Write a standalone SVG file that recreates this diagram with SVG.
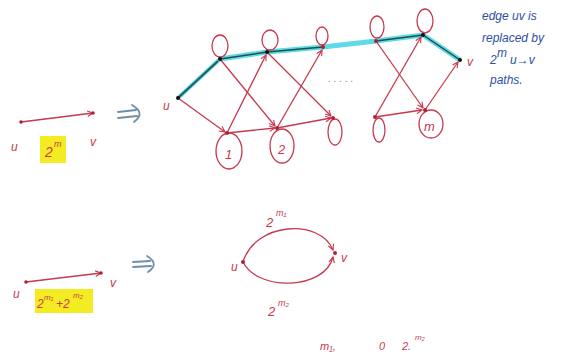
<svg xmlns="http://www.w3.org/2000/svg" width="567" height="355" viewBox="0 0 567 355">
<style>
.r{stroke:#c8384e;stroke-width:1.3;fill:none;stroke-linecap:round}
.ra{stroke:#c8384e;stroke-width:1.3;fill:none;marker-end:url(#ah)}
.lbl{font-family:"Liberation Sans",sans-serif;font-style:italic;fill:#c8384e}
.blue{font-family:"Liberation Sans",sans-serif;font-style:italic;fill:#2c4fa3;font-size:12px}
.dot{fill:#b02034}
.kd{fill:#111}
.imp{stroke:#6f8fa8;stroke-width:1.8;fill:none;stroke-linecap:round}
</style>
<defs>
<marker id="ah" viewBox="0 0 10 10" refX="9" refY="5" markerWidth="7" markerHeight="7" orient="auto" markerUnits="userSpaceOnUse">
<path d="M1 1 L9 5 L1 9" fill="none" stroke="#c8384e" stroke-width="1.6"/>
</marker>
</defs>
<rect width="567" height="355" fill="#fff"/>

<!-- left top: u -> v with 2^m -->
<g id="edge-top">
<rect x="40" y="136" width="26" height="27" fill="#f3ec23"/>
<line x1="21" y1="122" x2="93" y2="113" class="ra"/>
<circle cx="21" cy="122" r="1.8" class="dot"/>
<circle cx="93" cy="113" r="1.8" class="dot"/>
<text x="11" y="151" class="lbl" font-size="12">u</text>
<text x="45" y="157" class="lbl" font-size="14">2</text>
<text x="54" y="147" class="lbl" font-size="9">m</text>
<text x="90" y="146" class="lbl" font-size="12">v</text>
<path d="M118 112 L136 110 M118 118 L137 116 M132 105 Q146 113 134 122" class="imp"/>
</g>

<!-- connectors of the expanded graph -->
<g id="connectors">
<polyline points="220,59 267,52 323,47 376,41 423,35 460,60" fill="none" stroke="#3fd3e3" stroke-width="5" stroke-linejoin="round" opacity="0.85"/>
<line x1="178" y1="98" x2="220" y2="59" stroke="#3fd3e3" stroke-width="4" opacity="0.8"/>
<line x1="178" y1="98" x2="218" y2="61" stroke="#1f5f5c" stroke-width="2"/>
<polyline points="220,59 267,52 323,47" fill="none" stroke="#1f4f4c" stroke-width="1.5"/>
<polyline points="376,41 423,35 460,60" fill="none" stroke="#1f4f4c" stroke-width="1.5"/>
<line x1="178" y1="98" x2="225" y2="132" class="ra"/>
<line x1="220" y1="59" x2="275" y2="126" class="ra"/>
<line x1="227" y1="133" x2="266" y2="55" class="ra"/>
<line x1="227" y1="133" x2="275" y2="128" class="ra"/>
<line x1="267" y1="52" x2="331" y2="116" class="ra"/>
<line x1="277" y1="128" x2="322" y2="50" class="ra"/>
<line x1="277" y1="128" x2="331" y2="118" class="ra"/>
<line x1="376" y1="41" x2="423" y2="108" class="ra"/>
<line x1="375" y1="117" x2="421" y2="37" class="ra"/>
<line x1="375" y1="117" x2="422" y2="110" class="ra"/>
<line x1="425" y1="110" x2="458" y2="62" class="ra"/>
<!-- loops -->
<ellipse cx="220" cy="46" rx="8" ry="11" class="r"/>
<ellipse cx="270" cy="40" rx="8" ry="10" class="r"/>
<ellipse cx="322" cy="36" rx="6" ry="9" class="r"/>
<ellipse cx="377" cy="27" rx="7" ry="11" class="r"/>
<ellipse cx="425" cy="21" rx="8" ry="12" class="r"/>
<ellipse cx="229" cy="151" rx="13" ry="18" class="r"/>
<ellipse cx="282" cy="146" rx="12" ry="17" class="r"/>
<ellipse cx="335" cy="132" rx="7" ry="13" class="r"/>
<ellipse cx="379" cy="130" rx="6" ry="12" class="r"/>
<ellipse cx="431" cy="124" rx="12" ry="14" class="r"/>
<text x="328" y="82" font-family="Liberation Sans,sans-serif" font-size="10" fill="#888">. . . . .</text>
</g>

<g id="node-u"><circle cx="178" cy="98" r="2" class="kd"/><text x="163" y="110" class="lbl" font-size="12">u</text></g>
<g id="node-t1"><circle cx="220" cy="59" r="2" class="kd"/></g>
<g id="node-t2"><circle cx="267" cy="52" r="2" class="kd"/></g>
<g id="node-t3"><circle cx="323" cy="47" r="2" class="dot"/></g>
<g id="node-t4"><circle cx="376" cy="41" r="2" class="dot"/></g>
<g id="node-t5"><circle cx="423" cy="35" r="2" class="kd"/></g>
<g id="node-v"><circle cx="460" cy="60" r="2" class="kd"/><text x="467" y="66" class="lbl" font-size="12">v</text></g>
<g id="node-b1"><circle cx="227" cy="133" r="2" class="dot"/><text x="225" y="159" class="lbl" font-size="13">1</text></g>
<g id="node-b2"><circle cx="277" cy="128" r="2" class="dot"/><text x="278" y="154" class="lbl" font-size="13">2</text></g>
<g id="node-b3"><circle cx="333" cy="118" r="2" class="dot"/></g>
<g id="node-b4"><circle cx="375" cy="117" r="2" class="dot"/></g>
<g id="node-bm"><circle cx="425" cy="110" r="2" class="dot"/><text x="424" y="131" class="lbl" font-size="13">m</text></g>

<g id="note">
<text x="482" y="20" class="blue">edge uv is</text>
<text x="482" y="42" class="blue">replaced by</text>
<text x="490" y="64" class="blue">2</text>
<text x="497" y="57" class="blue" font-size="8">m</text>
<text x="510" y="64" class="blue" font-size="10">u→v</text>
<text x="490" y="84" class="blue">paths.</text>
</g>

<!-- bottom left -->
<g id="edge-bottom">
<rect x="35" y="289" width="58" height="24" fill="#f3ec23"/>
<line x1="26" y1="282" x2="101" y2="273" class="ra"/>
<circle cx="26" cy="282" r="1.8" class="dot"/>
<circle cx="101" cy="273" r="1.8" class="dot"/>
<text x="13" y="298" class="lbl" font-size="12">u</text>
<text x="110" y="287" class="lbl" font-size="12">v</text>
<text x="37" y="308" class="lbl" font-size="12">2</text>
<text x="44" y="300" class="lbl" font-size="8">m₁</text>
<text x="56" y="308" class="lbl" font-size="12">+2</text>
<text x="73" y="298" class="lbl" font-size="8">m₂</text>
<path d="M133 262 L150 261 M133 267 L151 266 M147 256 Q160 264 148 272" class="imp"/>
</g>

<g id="connectors-2">
<path d="M243 262 C 255 222, 320 218, 333 250" class="ra"/>
<path d="M243 262 C 258 292, 325 290, 333 257" class="ra"/>
<text x="266" y="227" class="lbl" font-size="13">2</text>
<text x="276" y="216" class="lbl" font-size="9">m₁</text>
<text x="268" y="316" class="lbl" font-size="13">2</text>
<text x="278" y="306" class="lbl" font-size="9">m₂</text>
</g>
<g id="node-u2"><circle cx="243" cy="262" r="2" class="dot"/><text x="231" y="271" class="lbl" font-size="12">u</text></g>
<g id="node-v2"><circle cx="335" cy="253" r="2" class="dot"/><text x="341" y="262" class="lbl" font-size="12">v</text></g>

<g id="footer">
<text x="320" y="350" class="lbl" font-size="11">m₁,</text>
<text x="379" y="350" class="lbl" font-size="11">0</text>
<text x="402" y="350" class="lbl" font-size="11">2.</text>
<text x="415" y="340" class="lbl" font-size="8">m₂</text>
</g>
</svg>
